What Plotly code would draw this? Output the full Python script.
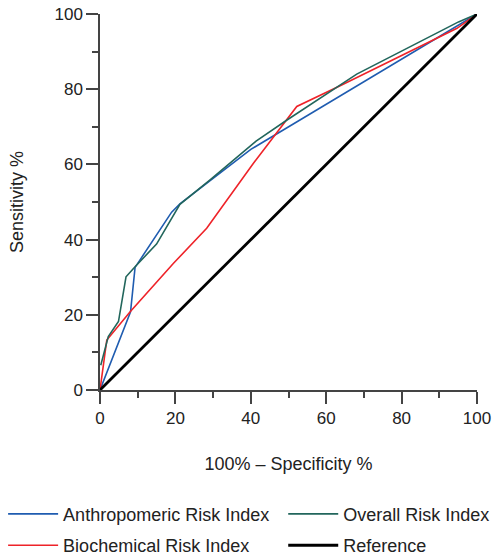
import plotly.graph_objects as go

# Data
anthro_x = [0, 8.1, 9.3, 19.0, 21.2, 40.0, 100]
anthro_y = [0, 20.8, 32.6, 47.3, 49.5, 64.0, 100]

biochem_x = [0, 1.8, 8.0, 19.5, 28.3, 40.7, 52.2, 63.7, 94.7, 100]
biochem_y = [0, 13.3, 20.8, 33.7, 43.0, 60.3, 75.4, 80.9, 96.2, 100]

overall_x = [0.2, 2.2, 4.9, 6.9, 9.3, 15.0, 21.2, 29.2, 41.4, 49.6, 68.1, 95.1, 100]
overall_y = [6.6, 14.2, 18.2, 30.1, 32.8, 38.8, 49.4, 55.9, 66.2, 71.8, 84.0, 97.9, 100]

ref_x = [0, 100]
ref_y = [0, 100]

names = ["Anthropomeric Risk Index", "Biochemical Risk Index", "Overall Risk Index", "Reference"]
colors = ["#1f5cb0", "#ee2329", "#22665c", "#000000"]

FONT = "Liberation Sans, Arial, sans-serif"

fig = go.Figure()
fig.add_trace(go.Scatter(x=anthro_x, y=anthro_y, mode="lines", name=names[0],
                         line=dict(color=colors[0], width=1.6), legend="legend", legendgroup="a"))
fig.add_trace(go.Scatter(x=biochem_x, y=biochem_y, mode="lines", name=names[1],
                         line=dict(color=colors[1], width=1.6), legend="legend", legendgroup="b"))
fig.add_trace(go.Scatter(x=overall_x, y=overall_y, mode="lines", name=names[2],
                         line=dict(color=colors[2], width=1.6), legend="legend2", legendgroup="c"))
fig.add_trace(go.Scatter(x=ref_x, y=ref_y, mode="lines", name=names[3],
                         line=dict(color=colors[3], width=2.8), legend="legend2", legendgroup="d"))

axis_common = dict(
    range=[0, 100], showgrid=False, zeroline=False, showline=True,
    linecolor="#444444", linewidth=1.5, ticks="outside", ticklen=12, tickwidth=1.5,
    tickcolor="#444444", dtick=20, tick0=0,
    tickfont=dict(family=FONT, size=17, color="#222222"),
    minor=dict(ticks="outside", ticklen=6, tickwidth=1.5, tickcolor="#444444", dtick=10),
)

legend_common = dict(
    xanchor="left", yanchor="top", orientation="v", itemwidth=50, tracegroupgap=5,
    font=dict(family=FONT, size=18, color="#222222"),
    bgcolor="rgba(0,0,0,0)", borderwidth=0,
)

fig.update_layout(
    width=492, height=556,
    margin=dict(l=100, r=15, t=14, b=166, autoexpand=False),
    paper_bgcolor="white", plot_bgcolor="white",
    font=dict(family=FONT, size=17, color="#222222"),
    xaxis=dict(**axis_common,
               title=dict(text="100% – Specificity %", standoff=30,
                          font=dict(family=FONT, size=18, color="#222222"))),
    yaxis=dict(**axis_common,
               title=dict(text="Sensitivity %", standoff=26,
                          font=dict(family=FONT, size=18, color="#222222"))),
    legend=dict(x=-0.257, y=-0.281, **legend_common),
    legend2=dict(x=0.486, y=-0.281, **legend_common),
    showlegend=True,
)

fig.write_html("out.html")
